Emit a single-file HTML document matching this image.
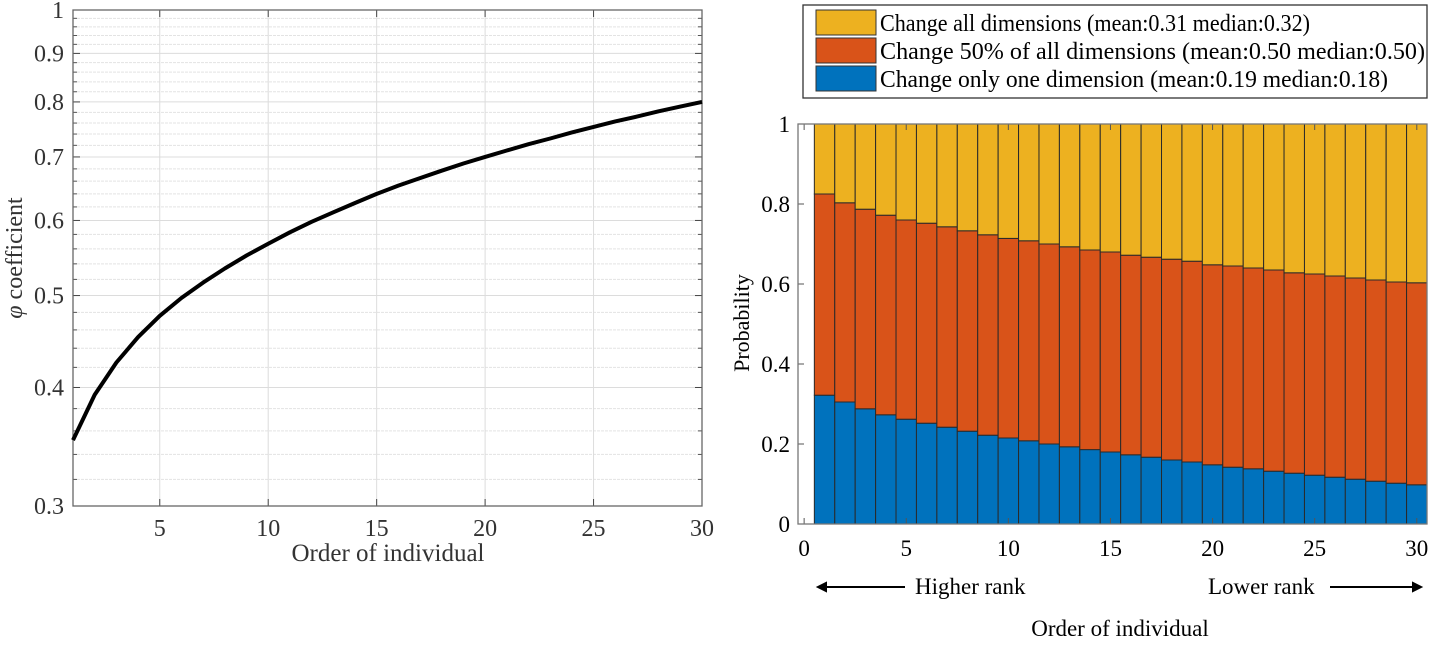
<!DOCTYPE html>
<html><head><meta charset="utf-8"><style>
html,body{margin:0;padding:0;background:#fff;}
svg{display:block;font-family:"Liberation Serif",serif;}
</style></head><body>
<svg id="svg" width="1447" height="645" viewBox="0 0 1447 645">
<g id="left"></g>
<g id="right"></g>
</svg>
<script>
// ---- Left chart data ----
const phiX = [1,2,3,4,5,6,7,8,9,10,11,12,13,14,15,16,17,18,19,20,21,22,23,24,25,26,27,28,29,30];
const phiY = [0.352,0.393,0.425,0.452,0.476,0.497,0.516,0.534,0.551,0.567,0.583,0.598,0.612,0.626,0.640,0.653,0.665,0.677,0.689,0.70,0.711,0.722,0.732,0.743,0.753,0.763,0.772,0.782,0.791,0.80];
const phiXTicks = [5,10,15,20,25,30];
const phiYTicks = [0.3,0.4,0.5,0.6,0.7,0.8,0.9,1];
const phiYTickLabels = ["0.3","0.4","0.5","0.6","0.7","0.8","0.9","1"];

// ---- Right chart data ----
const orders = [1,2,3,4,5,6,7,8,9,10,11,12,13,14,15,16,17,18,19,20,21,22,23,24,25,26,27,28,29,30];
const probOne = [0.322,0.305,0.288,0.273,0.262,0.252,0.242,0.232,0.222,0.215,0.208,0.200,0.193,0.186,0.180,0.173,0.167,0.160,0.155,0.148,0.142,0.138,0.132,0.127,0.122,0.117,0.112,0.107,0.102,0.098];
const probHalf = [0.503,0.498,0.499,0.499,0.498,0.500,0.501,0.501,0.501,0.499,0.500,0.500,0.500,0.499,0.500,0.499,0.500,0.502,0.502,0.500,0.503,0.502,0.503,0.501,0.503,0.503,0.503,0.503,0.503,0.505];
const probAll = [0.175,0.197,0.213,0.228,0.240,0.248,0.257,0.267,0.277,0.286,0.292,0.300,0.307,0.315,0.320,0.328,0.333,0.338,0.343,0.352,0.355,0.360,0.365,0.372,0.375,0.380,0.385,0.390,0.395,0.397];
const rXTicks = [0,5,10,15,20,25,30];
const rYTicks = [0,0.2,0.4,0.6,0.8,1];
const rYTickLabels = ["0","0.2","0.4","0.6","0.8","1"];
const seriesNames = ["Change all dimensions (mean:0.31 median:0.32)","Change 50% of all dimensions (mean:0.50 median:0.50)","Change only one dimension (mean:0.19 median:0.18)"];

const NS="http://www.w3.org/2000/svg";
function mk(parent,tag,attrs,text){const e=document.createElementNS(NS,tag);for(const k in attrs)e.setAttribute(k,attrs[k]);if(text!==undefined)e.textContent=text;parent.appendChild(e);return e;}

// ===== Left chart =====
const L=document.getElementById('left');
const lx0=73,lx1=702,ly0=10,ly1=506;
const lxs=v=>lx0+(v-1)/(30-1)*(lx1-lx0);
const lys=v=>ly1-(Math.log(v)-Math.log(0.3))/(Math.log(1)-Math.log(0.3))*(ly1-ly0);
for(let k=15;k<=50;k++){const v=k*0.02;if(Math.abs(v*10-Math.round(v*10))<1e-6)continue;
 const y=lys(v);
 const g=mk(L,'line',{x1:lx0,x2:lx1,y1:y,y2:y,stroke:'#e3e3e3','stroke-width':1,'stroke-dasharray':'3,1'});
 
 const t1=mk(L,'line',{x1:lx0,x2:lx0+4,y1:y,y2:y,stroke:'#555','stroke-width':1});
 
 const t2=mk(L,'line',{x1:lx1-4,x2:lx1,y1:y,y2:y,stroke:'#555','stroke-width':1});
 
}
phiYTicks.forEach((v,i)=>{const y=lys(v);
 const g=mk(L,'line',{x1:lx0,x2:lx1,y1:y,y2:y,stroke:'#dcdcdc','stroke-width':1});
 
 const t=mk(L,'line',{x1:lx0,x2:lx0+7,y1:y,y2:y,stroke:'#444','stroke-width':1});
 
 const t2=mk(L,'line',{x1:lx1-7,x2:lx1,y1:y,y2:y,stroke:'#444','stroke-width':1});
 
 const lb=mk(L,'text',{x:lx0-9,y:y+8,'text-anchor':'end','font-size':24,fill:'#333'},phiYTickLabels[i]);
 
});
phiXTicks.forEach(v=>{const x=lxs(v);
 const g=mk(L,'line',{x1:x,x2:x,y1:ly0,y2:ly1,stroke:'#dcdcdc','stroke-width':1});
 
 const t=mk(L,'line',{x1:x,x2:x,y1:ly1,y2:ly1-7,stroke:'#444','stroke-width':1});
 
 const t2=mk(L,'line',{x1:x,x2:x,y1:ly0,y2:ly0+7,stroke:'#444','stroke-width':1});
 
 const lb=mk(L,'text',{x:x,y:ly1+30,'text-anchor':'middle','font-size':24,fill:'#333'},String(v));
 
});
const lbox=mk(L,'rect',{x:lx0,y:ly0,width:lx1-lx0,height:ly1-ly0,fill:'none',stroke:'#666','stroke-width':1.3});

const pth=mk(L,'path',{d:phiX.map((x,i)=>(i?'L':'M')+lxs(x).toFixed(1)+','+lys(phiY[i]).toFixed(1)).join(''),fill:'none',stroke:'#000','stroke-width':4,'stroke-linejoin':'round'});

const lxl=mk(L,'text',{x:388,y:561,'text-anchor':'middle','font-size':25,fill:'#333'},'Order of individual');

const lyl=mk(L,'text',{x:0,y:0,'text-anchor':'middle','font-size':24,fill:'#333',transform:'translate(22,258) rotate(-90)'});

mk(lyl,'tspan',{'font-style':'italic'},'φ');mk(lyl,'tspan',{},' coefficient');

// ===== Right chart =====
const R=document.getElementById('right');
const rx0=798,rx1=1427,ry0=124,ry1=524;
const xmin=-0.3,xmax=30.5;
const rxs=v=>rx0+(v-xmin)/(xmax-xmin)*(rx1-rx0);
const rys=v=>ry1-v*(ry1-ry0);
const colors=['#EDB120','#D95319','#0072BD'];
orders.forEach((o,i)=>{
 const xa=rxs(o-0.5),xb=rxs(o+0.5);
 const segs=[[0,probOne[i],colors[2],'bar-one-dimension'],[probOne[i],probOne[i]+probHalf[i],colors[1],'bar-half-dimensions'],[probOne[i]+probHalf[i],probOne[i]+probHalf[i]+probAll[i],colors[0],'bar-all-dimensions']];
 segs.forEach(s=>{
  const r=mk(R,'rect',{x:xa,y:rys(s[1]),width:xb-xa,height:rys(s[0])-rys(s[1]),fill:s[2],stroke:'#2a2a2a','stroke-width':1});
  
 });
});
rYTicks.forEach((v,i)=>{const y=rys(v);
 const t=mk(R,'line',{x1:rx0,x2:rx0+6,y1:y,y2:y,stroke:'#555'});
 
 const lb=mk(R,'text',{x:rx0-8,y:y+8,'text-anchor':'end','font-size':23,fill:'#000'},rYTickLabels[i]);
 
});
rXTicks.forEach(v=>{const x=rxs(v);
 const t=mk(R,'line',{x1:x,x2:x,y1:ry1,y2:ry1-6,stroke:'#555'});
 
 const t2=mk(R,'line',{x1:x,x2:x,y1:ry0,y2:ry0+6,stroke:'#555'});
 
 const lb=mk(R,'text',{x:x,y:ry1+32,'text-anchor':'middle','font-size':23,fill:'#000'},String(v));
 
});
const rbox=mk(R,'rect',{x:rx0,y:ry0,width:rx1-rx0,height:ry1-ry0,fill:'none',stroke:'#777','stroke-width':1.3});

const ryl=mk(R,'text',{'text-anchor':'middle','font-size':22,fill:'#000',transform:'translate(749,323) rotate(-90)'},'Probability');

const rxl=mk(R,'text',{x:1120,y:636,'text-anchor':'middle','font-size':23,fill:'#000'},'Order of individual');

const a1=mk(R,'path',{d:'M905,587 L818,587 M818,587 L826,583 L826,591 Z',stroke:'#000','stroke-width':2,fill:'#000'});

const h=mk(R,'text',{x:915,y:594,'font-size':23,fill:'#000'},'Higher rank');

const lo=mk(R,'text',{x:1208,y:594,'font-size':23,fill:'#000'},'Lower rank');

const a2=mk(R,'path',{d:'M1330,587 L1420,587 M1421,587 L1413,583 L1413,591 Z',stroke:'#000','stroke-width':2,fill:'#000'});

const lg=mk(R,'g',{});

const lr=mk(lg,'rect',{x:803,y:5,width:624,height:93,fill:'#fff',stroke:'#333','stroke-width':1.3});

const legendLens=[430,545,508];
seriesNames.forEach((n,i)=>{const y=10+i*28;
 const sw=mk(lg,'rect',{x:816,y:y,width:60,height:25,fill:colors[i],stroke:'#333','stroke-width':1});
 
 const t=mk(lg,'text',{x:880,y:y+21,'font-size':24,fill:'#000',textLength:legendLens[i],lengthAdjust:'spacingAndGlyphs'},n);
 
});
</script>
</body></html>
